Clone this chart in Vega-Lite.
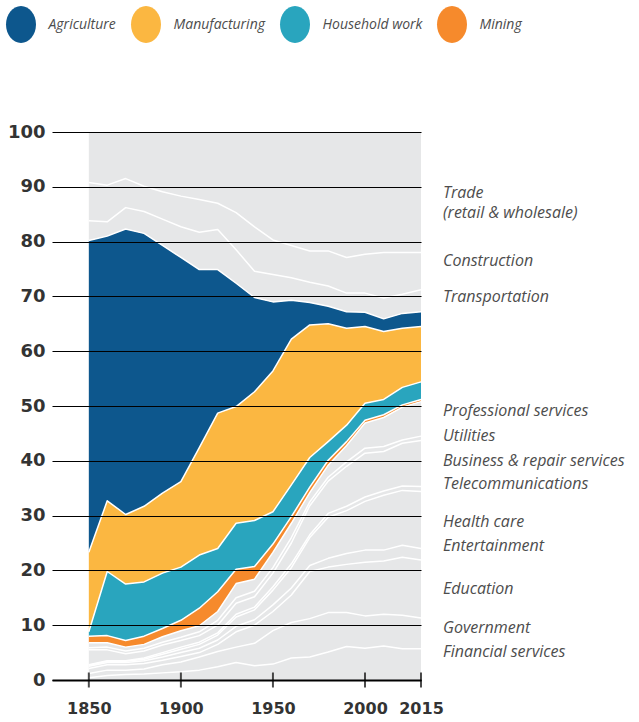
{
  "$schema": "https://vega.github.io/schema/vega-lite/v6.json",
  "width": 369,
  "height": 548,
  "autosize": {"type": "none"},
  "padding": {"left": 52, "top": 132, "right": 218, "bottom": 42},
  "background": "white",
  "config": {"view": {"stroke": null}},
  "datasets": {
    "shares": [
      {"year": 1850, "Financial services": 0.4, "Government": 0.8, "Education": 0.9, "Entertainment": 0.4, "Health care": 0.2, "Telecommunications": 0.1, "Business & repair services": 2.7, "Utilities": 0.4, "Professional services": 0.9, "Mining": 1.2, "Household work": 0.8, "Manufacturing": 14.5, "Agriculture": 56.9, "Transportation": 3.6, "Construction": 7.0, "Trade": 9.2},
      {"year": 1860, "Financial services": 0.8, "Government": 1.0, "Education": 1.0, "Entertainment": 0.4, "Health care": 0.2, "Telecommunications": 0.1, "Business & repair services": 2.0, "Utilities": 0.5, "Professional services": 0.8, "Mining": 1.3, "Household work": 11.7, "Manufacturing": 12.9, "Agriculture": 48.3, "Transportation": 2.6, "Construction": 6.7, "Trade": 9.7},
      {"year": 1870, "Financial services": 1.0, "Government": 0.8, "Education": 1.0, "Entertainment": 0.4, "Health care": 0.2, "Telecommunications": 0.1, "Business & repair services": 1.3, "Utilities": 0.5, "Professional services": 0.7, "Mining": 1.2, "Household work": 10.3, "Manufacturing": 12.7, "Agriculture": 52.1, "Transportation": 3.9, "Construction": 5.3, "Trade": 8.5},
      {"year": 1880, "Financial services": 1.1, "Government": 0.9, "Education": 1.0, "Entertainment": 0.5, "Health care": 0.3, "Telecommunications": 0.2, "Business & repair services": 1.3, "Utilities": 0.5, "Professional services": 0.7, "Mining": 1.5, "Household work": 9.9, "Manufacturing": 13.8, "Agriculture": 49.8, "Transportation": 4.0, "Construction": 4.6, "Trade": 9.9},
      {"year": 1890, "Financial services": 1.3, "Government": 1.5, "Education": 0.8, "Entertainment": 0.6, "Health care": 0.5, "Telecommunications": 0.3, "Business & repair services": 1.4, "Utilities": 0.5, "Professional services": 1.0, "Mining": 1.5, "Household work": 10.1, "Manufacturing": 14.6, "Agriculture": 45.2, "Transportation": 4.8, "Construction": 5.0, "Trade": 10.9},
      {"year": 1900, "Financial services": 1.5, "Government": 1.8, "Education": 1.0, "Entertainment": 0.7, "Health care": 0.6, "Telecommunications": 0.4, "Business & repair services": 1.2, "Utilities": 0.6, "Professional services": 1.2, "Mining": 1.9, "Household work": 9.7, "Manufacturing": 15.6, "Agriculture": 40.9, "Transportation": 5.6, "Construction": 5.6, "Trade": 11.7},
      {"year": 1910, "Financial services": 1.8, "Government": 2.4, "Education": 0.8, "Entertainment": 0.8, "Health care": 0.7, "Telecommunications": 0.4, "Business & repair services": 1.2, "Utilities": 0.7, "Professional services": 1.1, "Mining": 3.2, "Household work": 9.7, "Manufacturing": 19.6, "Agriculture": 32.5, "Transportation": 6.8, "Construction": 6.0, "Trade": 12.3},
      {"year": 1920, "Financial services": 2.4, "Government": 2.8, "Education": 1.3, "Entertainment": 0.8, "Health care": 0.9, "Telecommunications": 0.4, "Business & repair services": 1.4, "Utilities": 0.9, "Professional services": 1.6, "Mining": 3.6, "Household work": 7.9, "Manufacturing": 24.7, "Agriculture": 26.2, "Transportation": 7.3, "Construction": 4.8, "Trade": 13.0},
      {"year": 1930, "Financial services": 3.2, "Government": 2.8, "Education": 2.8, "Entertainment": 1.0, "Health care": 1.7, "Telecommunications": 0.5, "Business & repair services": 2.0, "Utilities": 1.0, "Professional services": 2.6, "Mining": 2.6, "Household work": 8.4, "Manufacturing": 21.3, "Agriculture": 22.5, "Transportation": 6.1, "Construction": 6.8, "Trade": 14.7},
      {"year": 1940, "Financial services": 2.6, "Government": 4.1, "Education": 3.3, "Entertainment": 1.0, "Health care": 1.8, "Telecommunications": 0.5, "Business & repair services": 1.9, "Utilities": 1.0, "Professional services": 2.2, "Mining": 2.3, "Household work": 8.4, "Manufacturing": 23.5, "Agriculture": 17.2, "Transportation": 4.8, "Construction": 8.1, "Trade": 17.3},
      {"year": 1950, "Financial services": 2.9, "Government": 6.1, "Education": 3.5, "Entertainment": 1.2, "Health care": 2.7, "Telecommunications": 0.6, "Business & repair services": 2.5, "Utilities": 1.0, "Professional services": 2.8, "Mining": 1.5, "Household work": 5.9, "Manufacturing": 25.7, "Agriculture": 12.6, "Transportation": 5.0, "Construction": 6.3, "Trade": 19.7},
      {"year": 1960, "Financial services": 4.0, "Government": 6.5, "Education": 5.0, "Entertainment": 1.3, "Health care": 3.7, "Telecommunications": 0.7, "Business & repair services": 3.8, "Utilities": 1.0, "Professional services": 2.6, "Mining": 1.2, "Household work": 5.8, "Manufacturing": 26.6, "Agriculture": 7.1, "Transportation": 4.1, "Construction": 5.9, "Trade": 20.7},
      {"year": 1970, "Financial services": 4.2, "Government": 7.0, "Education": 8.6, "Entertainment": 1.1, "Health care": 5.1, "Telecommunications": 0.5, "Business & repair services": 5.3, "Utilities": 0.7, "Professional services": 1.7, "Mining": 1.0, "Household work": 5.4, "Manufacturing": 24.2, "Agriculture": 4.1, "Transportation": 3.7, "Construction": 5.7, "Trade": 21.7},
      {"year": 1980, "Financial services": 5.1, "Government": 7.2, "Education": 8.3, "Entertainment": 1.6, "Health care": 7.5, "Telecommunications": 0.7, "Business & repair services": 5.9, "Utilities": 0.7, "Professional services": 2.2, "Mining": 0.9, "Household work": 3.4, "Manufacturing": 21.5, "Agriculture": 3.2, "Transportation": 3.7, "Construction": 6.4, "Trade": 21.7},
      {"year": 1990, "Financial services": 6.1, "Government": 6.2, "Education": 8.8, "Entertainment": 2.0, "Health care": 7.8, "Telecommunications": 0.8, "Business & repair services": 7.3, "Utilities": 0.8, "Professional services": 3.0, "Mining": 0.7, "Household work": 3.0, "Manufacturing": 17.7, "Agriculture": 3.0, "Transportation": 3.4, "Construction": 6.5, "Trade": 22.9},
      {"year": 2000, "Financial services": 5.8, "Government": 5.9, "Education": 9.8, "Entertainment": 2.2, "Health care": 8.9, "Telecommunications": 0.8, "Business & repair services": 8.0, "Utilities": 0.9, "Professional services": 4.6, "Mining": 0.5, "Household work": 3.1, "Manufacturing": 14.0, "Agriculture": 2.6, "Transportation": 3.5, "Construction": 7.1, "Trade": 22.3},
      {"year": 2005, "Financial services": 6.2, "Government": 5.8, "Education": 9.7, "Entertainment": 2.0, "Health care": 10.0, "Telecommunications": 0.8, "Business & repair services": 7.2, "Utilities": 0.9, "Professional services": 5.3, "Mining": 0.5, "Household work": 2.8, "Manufacturing": 12.4, "Agriculture": 2.3, "Transportation": 3.8, "Construction": 8.3, "Trade": 22.0},
      {"year": 2010, "Financial services": 5.7, "Government": 6.1, "Education": 10.6, "Entertainment": 2.2, "Health care": 10.0, "Telecommunications": 0.8, "Business & repair services": 7.8, "Utilities": 0.6, "Professional services": 6.0, "Mining": 0.4, "Household work": 3.2, "Manufacturing": 10.8, "Agriculture": 2.7, "Transportation": 3.5, "Construction": 7.6, "Trade": 22.0},
      {"year": 2015, "Financial services": 5.7, "Government": 5.6, "Education": 10.6, "Entertainment": 2.1, "Health care": 10.4, "Telecommunications": 0.9, "Business & repair services": 8.4, "Utilities": 0.8, "Professional services": 6.3, "Mining": 0.4, "Household work": 3.2, "Manufacturing": 10.1, "Agriculture": 2.7, "Transportation": 4.0, "Construction": 6.8, "Trade": 22.0}
    ],
    "ticks": [{"year": 1850}, {"year": 1900}, {"year": 1950}, {"year": 2000}, {"year": 2015}],
    "labels": [
      {"label": "Trade\n(retail & wholesale)", "level": 88.9},
      {"label": "Construction", "level": 76.5},
      {"label": "Transportation", "level": 69.8},
      {"label": "Professional services", "level": 49.1},
      {"label": "Utilities", "level": 44.6},
      {"label": "Business & repair services", "level": 40.0},
      {"label": "Telecommunications", "level": 35.8},
      {"label": "Health care", "level": 28.8},
      {"label": "Entertainment", "level": 24.5},
      {"label": "Education", "level": 16.6},
      {"label": "Government", "level": 9.4},
      {"label": "Financial services", "level": 5.1}
    ]
  },
  "layer": [
    {
      "data": {"name": "shares"},
      "transform": [
        {"fold": ["Financial services", "Government", "Education", "Entertainment", "Health care", "Telecommunications", "Business & repair services", "Utilities", "Professional services", "Mining", "Household work", "Manufacturing", "Agriculture", "Transportation", "Construction", "Trade"]},
        {"calculate": "indexof(['Financial services', 'Government', 'Education', 'Entertainment', 'Health care', 'Telecommunications', 'Business & repair services', 'Utilities', 'Professional services', 'Mining', 'Household work', 'Manufacturing', 'Agriculture', 'Transportation', 'Construction', 'Trade'], datum.key)", "as": "order"},
        {"stack": "value", "groupby": ["year"], "sort": [{"field": "order", "order": "ascending"}], "as": ["y0", "y1"]}
      ],
      "layer": [
        {
          "mark": {"type": "area", "interpolate": "linear"},
          "encoding": {
            "x": {
              "field": "year", "type": "quantitative",
              "scale": {"domain": [1830, 2000, 2015], "range": [0, 313, 369], "nice": false, "zero": false},
              "axis": {
                "title": null, "values": [1850, 1900, 1950, 2000, 2015], "format": "d",
                "grid": false, "ticks": false, "domainColor": "black", "domainWidth": 2,
                "labelPadding": 20, "labelFont": "DejaVu Sans", "labelFontWeight": "bold",
                "labelFontSize": 16, "labelColor": "#333333", "labelOverlap": false,
                "labelFlush": false, "labelBound": false, "zindex": 1
              }
            },
            "y": {
              "field": "y1", "type": "quantitative",
              "scale": {"domain": [0, 100], "nice": false, "zero": true},
              "axis": {
                "title": null, "values": [0, 10, 20, 30, 40, 50, 60, 70, 80, 90, 100],
                "grid": true, "gridColor": "black", "gridWidth": 1, "domain": false,
                "ticks": false, "labelPadding": 7, "labelFont": "DejaVu Sans",
                "labelFontWeight": "bold", "labelFontSize": 18, "labelColor": "#333333",
                "zindex": 1
              }
            },
            "y2": {"field": "y0"},
            "color": {
              "field": "key", "type": "nominal",
              "scale": {
                "domain": ["Agriculture", "Manufacturing", "Household work", "Mining", "Financial services", "Government", "Education", "Entertainment", "Health care", "Telecommunications", "Business & repair services", "Utilities", "Professional services", "Transportation", "Construction", "Trade"],
                "range": ["#0D578D", "#FBB741", "#29A5BE", "#F68A2C", "#E6E7E8", "#E6E7E8", "#E6E7E8", "#E6E7E8", "#E6E7E8", "#E6E7E8", "#E6E7E8", "#E6E7E8", "#E6E7E8", "#E6E7E8", "#E6E7E8", "#E6E7E8"]
              },
              "legend": {
                "values": ["Agriculture", "Manufacturing", "Household work", "Mining"],
                "orient": "none", "legendX": -49.5, "legendY": -126, "direction": "horizontal",
                "columns": 4, "title": null, "padding": 0,
                "symbolType": "M-0.81,0A0.81,1,0,1,1,0.81,0A0.81,1,0,1,1,-0.81,0Z",
                "symbolSize": 1369, "symbolStrokeWidth": 0, "symbolOpacity": 1,
                "labelFont": "Open Sans", "labelFontStyle": "italic", "labelFontSize": 14,
                "labelColor": "#4D4D4D", "labelOffset": 9, "columnPadding": 11
              }
            }
          }
        },
        {
          "transform": [{"filter": "datum.key !== 'Trade'"}],
          "mark": {"type": "line", "color": "white", "strokeWidth": 1.5, "strokeJoin": "round"},
          "encoding": {
            "x": {"field": "year", "type": "quantitative"},
            "y": {"field": "y1", "type": "quantitative"},
            "detail": {"field": "key"}
          }
        }
      ]
    },
    {
      "data": {"name": "ticks"},
      "mark": {"type": "tick", "orient": "vertical", "color": "black", "thickness": 2, "size": 15},
      "encoding": {
        "x": {"field": "year", "type": "quantitative"},
        "y": {"datum": 0, "type": "quantitative"}
      }
    },
    {
      "data": {"name": "labels"},
      "mark": {"type": "text", "align": "left", "baseline": "middle", "dx": 22, "font": "Open Sans", "fontStyle": "italic", "fontSize": 16, "color": "#4D4D4D", "lineBreak": "\n", "lineHeight": 20},
      "encoding": {
        "x": {"datum": 2015, "type": "quantitative"},
        "y": {"field": "level", "type": "quantitative"},
        "text": {"field": "label"}
      }
    }
  ]
}
